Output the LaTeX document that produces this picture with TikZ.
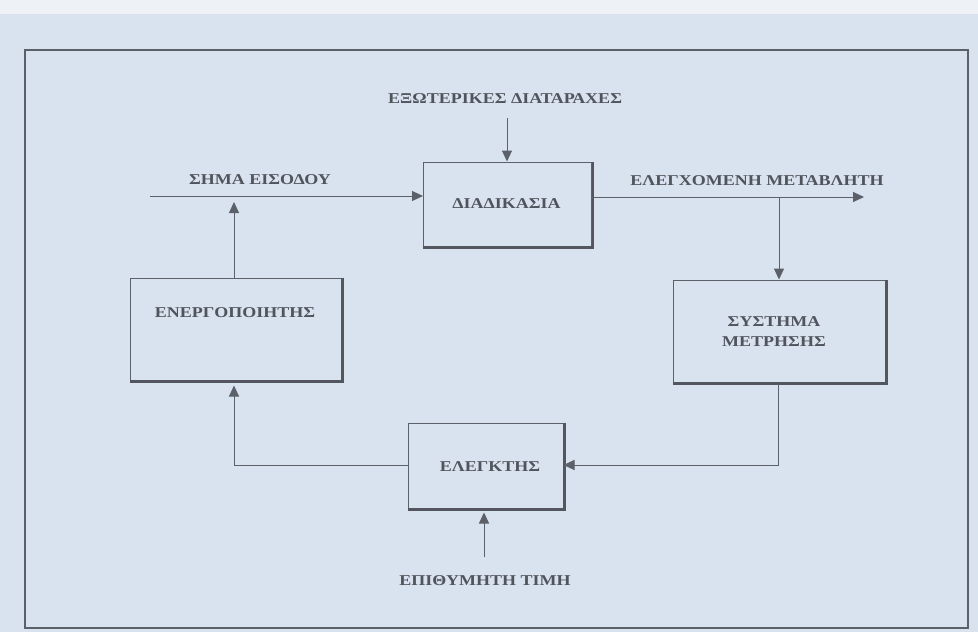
\documentclass[tikz,border=0pt]{standalone}
\usepackage{fontspec}
\setmainfont{Liberation Serif}
\usetikzlibrary{arrows.meta}
\definecolor{bg}{HTML}{D9E2EF}
\definecolor{topbg}{HTML}{EEF1F5}
\definecolor{ln}{HTML}{5C6068}
\definecolor{txt}{HTML}{50545C}
\newcommand{\gk}[1]{\scalebox{1.2}[1]{#1}}
\begin{document}
\begin{tikzpicture}[x=1pt,y=-1pt,
  lbl/.style={font=\bfseries\fontsize{15}{20}\selectfont, text=txt, inner sep=0pt},
  blk/.style={draw=ln, line width=1pt, fill=bg, inner sep=0pt},
  shadowline/.style={draw=ln!90!black, line width=2.2pt},
  conn/.style={draw=ln, line width=1pt},
  arr/.style={conn, -{Triangle[length=11pt,width=10pt]}}]
\useasboundingbox (0,0) rectangle (978,632);
\fill[bg] (0,0) rectangle (978,632);
\fill[topbg] (0,0) rectangle (978,14);
\draw[ln, line width=1.2pt] (25,50) rectangle (968,628);

% blocks
\node[blk, minimum width=168pt, minimum height=84pt] (proc) at (507.5,204) {};
\node[lbl] (proct) at (506.5,204) {\gk{ΔΙΑΔΙΚΑΣΙΑ}};
\node[blk, minimum width=211pt, minimum height=102pt] (act) at (235.5,329) {};
\node[lbl] (actt) at (235,313) {\gk{ΕΝΕΡΓΟΠΟΙΗΤΗΣ}};
\node[blk, minimum width=212pt, minimum height=102pt] (meas) at (779,331) {};
\node[lbl, align=center] (meast) at (774,332) {\gk{ΣΥΣΤΗΜΑ}\\\gk{ΜΕΤΡΗΣΗΣ}};
\node[blk, minimum width=155pt, minimum height=85pt] (ctrl) at (485.5,465.5) {};
\node[lbl] (ctrlt) at (490,467) {\gk{ΕΛΕΓΚΤΗΣ}};

\foreach \b in {proc,act,meas,ctrl}{
  \draw[shadowline] ([xshift=1pt]\b.north east) -- ([xshift=1pt,yshift=-1pt]\b.south east) -- ([yshift=-1pt]\b.south west);
}

% labels
\node[lbl, anchor=west] (ext) at (388,99) {\gk{ΕΞΩΤΕΡΙΚΕΣ ΔΙΑΤΑΡΑΧΕΣ}};
\node[lbl] (inl) at (260,180) {\gk{ΣΗΜΑ ΕΙΣΟΔΟΥ}};
\node[lbl] (outl) at (757,181) {\gk{ΕΛΕΓΧΟΜΕΝΗ ΜΕΤΑΒΛΗΤΗ}};
\node[lbl] (des) at (485,581) {\gk{ΕΠΙΘΥΜΗΤΗ ΤΙΜΗ}};

% coordinates
\coordinate (extS) at (507,118);
\coordinate (inS) at (150,196);
\coordinate (outE) at (864,197);
\coordinate (br) at (779,197);
\coordinate (desS) at (484,557);
\coordinate (rc) at (778,465);
\coordinate (lc) at (234,465);

% connectors
\draw[arr] (extS) -- (extS |- proc.north);
\draw[arr] (inS) -- (inS -| proc.west);
\draw[arr, shorten >=6pt] (act.north -| lc) -- (lc |- inS);
\draw[arr] (outE -| proc.east) -- (outE);
\draw[arr] (br) -- (br |- meas.north);
\draw[arr] (rc |- meas.south) -- (rc) -- (rc -| ctrl.east);
\draw[arr, shorten >=5pt] (lc -| ctrl.west) -- (lc) -- (lc |- act.south);
\draw[arr, shorten >=4pt] (desS) -- (desS |- ctrl.south);
\end{tikzpicture}
\end{document}
